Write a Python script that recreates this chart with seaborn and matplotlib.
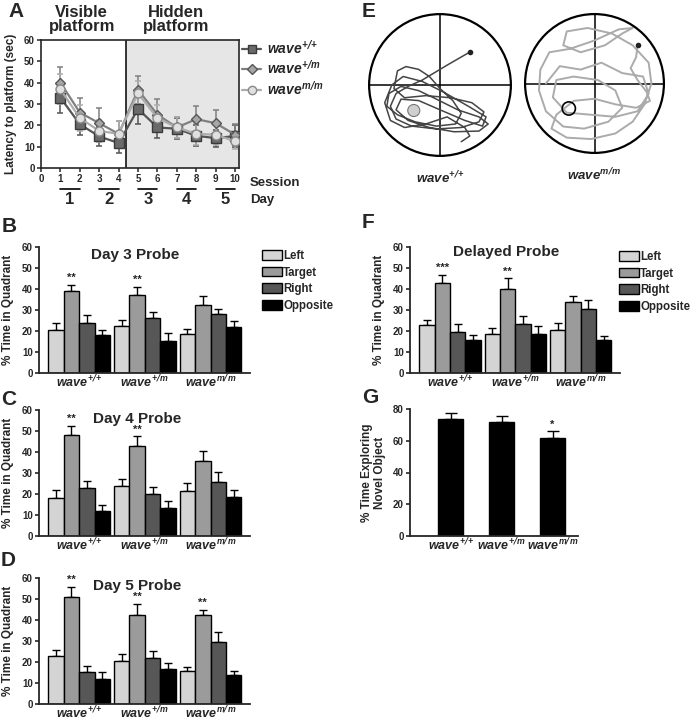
import matplotlib
matplotlib.use("Agg")
import matplotlib.pyplot as plt
from matplotlib.patches import Patch, Circle
from matplotlib.lines import Line2D
import matplotlib.transforms as mtransforms
import numpy as np
import pandas as pd
import seaborn as sns

sns.set_style("ticks")
plt.rcParams["font.family"] = ["Liberation Sans", "DejaVu Sans"]
plt.rcParams["font.weight"] = "bold"
plt.rcParams["axes.labelweight"] = "bold"
plt.rcParams["mathtext.fontset"] = "custom"
plt.rcParams["mathtext.it"] = "Liberation Sans:italic:bold"
plt.rcParams["mathtext.rm"] = "Liberation Sans:italic:bold"
plt.rcParams["mathtext.sf"] = "DejaVu Sans:italic:bold"
plt.rcParams["mathtext.bf"] = "Liberation Sans:bold"

# ---- data ----
genotypes = [r"$wave^{+\mathsf{/}{+}}$", r"$wave^{+\mathsf{/}m}$", r"$wave^{m\mathsf{/}m}$"]
quadrants = ["Left", "Target", "Right", "Opposite"]

sessions = [1, 2, 3, 4, 5, 6, 7, 8, 9, 10]
lat_wt = [33, 20.5, 14.8, 11.7, 27.7, 19, 18.4, 15.1, 14, 15]
lat_wt_err = [7, 5, 4.5, 4.5, 7, 5, 5, 5, 4, 5]
lat_het = [40, 26, 21, 16, 36.6, 25, 19, 22.9, 21, 15.6]
lat_het_err = [7.5, 7, 7, 6, 6.4, 7.5, 5, 6, 6, 5]
lat_mut = [36.9, 23.4, 17.4, 16, 35, 23.4, 19, 16, 15.6, 12.5]
lat_mut_err = [7, 6, 5, 6, 6, 6, 5, 5, 5, 3.5]

# rows: genotype, columns: Left, Target, Right, Opposite
day3_means = [[20.5, 39.2, 23.6, 18.2], [22.6, 37.1, 26.4, 15.4], [18.5, 32.5, 28.0, 22.1]]
day3_errs = [[3.2, 2.8, 3.9, 2.5], [2.7, 4.0, 2.7, 3.6], [2.5, 4.4, 2.7, 2.9]]
day3_stars = ["**", "**", ""]

day4_means = [[18.3, 48.2, 22.9, 11.8], [24.0, 42.8, 20.2, 13.5], [21.3, 35.8, 25.6, 18.5]]
day4_errs = [[3.5, 4.3, 3.1, 3.0], [3.2, 4.8, 3.0, 3.2], [4.0, 4.8, 4.8, 3.3]]
day4_stars = ["**", "**", ""]

day5_means = [[22.9, 51.0, 15.4, 11.9], [20.3, 42.2, 21.9, 16.8], [15.6, 42.2, 29.4, 14.0]]
day5_errs = [[2.8, 4.9, 2.9, 3.2], [3.4, 5.6, 3.3, 2.7], [2.2, 2.6, 4.7, 1.9]]
day5_stars = ["**", "**", "**"]

delayed_means = [[22.9, 42.9, 19.7, 15.6], [18.7, 40.2, 23.2, 18.4], [20.6, 34.0, 30.6, 15.6]]
delayed_errs = [[2.5, 3.8, 3.5, 2.5], [2.9, 4.9, 3.8, 3.8], [3.1, 2.8, 4.0, 2.2]]
delayed_stars = ["***", "**", ""]

novel_means = [73.9, 72.0, 61.9]
novel_errs = [3.4, 3.4, 4.0]
novel_stars = ["", "", "*"]

# swim paths (unit circle coordinates)
path_wt = [
    (0.43, 0.47), (0.10, 0.28), (-0.25, 0.07), (-0.45, -0.02), (-0.62, -0.12), (-0.70, -0.30),
    (-0.62, -0.48), (-0.40, -0.58), (-0.05, -0.62), (0.30, -0.60), (0.55, -0.52), (0.62, -0.38),
    (0.45, -0.25), (0.15, -0.18), (-0.20, -0.15), (-0.50, -0.18), (-0.65, -0.05), (-0.60, 0.20),
    (-0.48, 0.26), (-0.30, 0.22), (-0.15, 0.12), (0.00, -0.05), (0.18, -0.22), (0.30, -0.40),
    (0.22, -0.55), (-0.05, -0.58), (-0.35, -0.52), (-0.60, -0.42), (-0.75, -0.30), (-0.72, -0.12),
    (-0.55, -0.02), (-0.30, -0.08), (-0.05, -0.20), (0.25, -0.35), (0.55, -0.45), (0.68, -0.55),
    (0.55, -0.65), (0.20, -0.66), (-0.15, -0.60), (-0.45, -0.50), (-0.62, -0.35), (-0.55, -0.20),
    (-0.30, -0.22), (0.00, -0.35), (0.35, -0.50), (0.60, -0.58), (0.65, -0.45), (0.40, -0.30),
    (0.05, -0.10), (-0.25, 0.05), (-0.52, 0.12), (-0.68, 0.00), (-0.78, -0.25), (-0.70, -0.50),
    (-0.50, -0.60), (-0.20, -0.55), (0.10, -0.45), (0.35, -0.60), (0.42, -0.72), (0.30, -0.80),
]
path_mut = [
    (0.62, 0.56), (0.60, 0.38), (0.52, 0.22), (0.62, 0.05), (0.75, -0.12), (0.80, -0.25),
    (0.60, -0.35), (0.30, -0.30), (0.00, -0.22), (-0.30, -0.25), (-0.55, -0.45), (-0.62, -0.65),
    (-0.40, -0.78), (-0.05, -0.80), (0.30, -0.72), (0.55, -0.55), (0.72, -0.30), (0.82, 0.00),
    (0.78, 0.30), (0.55, 0.55), (0.25, 0.72), (-0.10, 0.80), (-0.40, 0.75), (-0.45, 0.55),
    (-0.20, 0.45), (0.15, 0.55), (0.40, 0.72), (0.55, 0.80), (0.35, 0.78), (0.00, 0.62),
    (-0.35, 0.50), (-0.65, 0.45), (-0.78, 0.20), (-0.80, -0.10), (-0.70, -0.40), (-0.45, -0.62),
    (-0.15, -0.65), (0.20, -0.55), (0.40, -0.35), (0.30, -0.10), (0.05, 0.05), (-0.30, 0.10),
    (-0.55, 0.05), (-0.60, -0.20), (-0.40, -0.42), (-0.05, -0.45), (0.30, -0.48), (0.62, -0.40),
    (0.78, -0.15), (0.70, 0.10), (0.40, 0.15), (0.10, 0.30), (-0.20, 0.20), (-0.50, 0.25),
    (-0.70, 0.00),
]
platform_xy = (-0.37, -0.36)

bar_colors = ["#d4d4d4", "#9b9b9b", "#575757", "#000000"]

W, H = 692, 720
fig = plt.figure(figsize=(W / 100, H / 100), dpi=100)


def add_ax(left, top, right, bottom):
    return fig.add_axes([left / W, 1 - bottom / H, (right - left) / W, (bottom - top) / H])


def style_ax(ax):
    for s in ["left", "bottom"]:
        ax.spines[s].set_linewidth(1.3)
    ax.tick_params(axis="y", direction="out", length=3, width=1.2, labelsize=7, pad=1.5)
    ax.tick_params(axis="x", length=0, labelsize=9, pad=0.5)


def bar_panel(ax, means, errs, stars, title, tx, ty):
    df = pd.DataFrame({
        "genotype": np.repeat(genotypes, 4),
        "quadrant": quadrants * 3,
        "value": np.array(means).ravel(),
    })
    sns.barplot(data=df, x="genotype", y="value", hue="quadrant", hue_order=quadrants,
                palette=bar_colors, edgecolor="black", linewidth=1, width=0.94, gap=0,
                errorbar=None, legend=False, ax=ax, zorder=2)
    bar_conts = list(ax.containers)
    for qi, cont in enumerate(bar_conts):
        for gi, bar in enumerate(cont.patches):
            x = bar.get_x() + bar.get_width() / 2
            h = bar.get_height()
            e = errs[gi][qi]
            ax.errorbar(x, h, yerr=[[0], [e]], fmt="none", ecolor="black",
                        elinewidth=1, capsize=3, capthick=1, zorder=1)
            if qi == 1 and stars[gi]:
                ax.text(x, h + e + 0.8, stars[gi], ha="center", va="bottom", fontsize=8)
    ax.set_ylim(0, 60)
    ax.set_yticks(range(0, 61, 10))
    ax.set_xlim(-0.61, 2.6)
    ax.set_xlabel("")
    ax.set_ylabel("% Time in Quadrant", fontsize=8.5, labelpad=6)
    ax.text(tx, ty, title, transform=ax.transAxes, ha="center", va="center", fontsize=11)
    sns.despine(ax=ax)
    style_ax(ax)


def quad_legend(x, y):
    handles = [Patch(facecolor=c, edgecolor="black", linewidth=1) for c in bar_colors]
    fig.legend(handles, quadrants, loc="upper left", bbox_to_anchor=(x / W, 1 - y / H),
               frameon=False, fontsize=8.3, handlelength=1.7, handleheight=0.9,
               labelspacing=0.4, handletextpad=0.15, borderpad=0, borderaxespad=0)


# ---- panel A ----
axA = add_ax(41, 40, 239, 168)
axA.axvspan(4.4, 10.2, color="#e6e6e6", zorder=0, lw=0)
axA.axvline(4.4, color="black", lw=1.1, zorder=1)
series = [
    (lat_wt, lat_wt_err, "s", "#555555", "#6a6a6a", "#3a3a3a"),
    (lat_het, lat_het_err, "D", "#808080", "#a6a6a6", "#555555"),
    (lat_mut, lat_mut_err, "o", "#acacac", "#e0e0e0", "#888888"),
]
for vals, err, mk, lc, fc, ec in series:
    axA.errorbar(sessions, vals, yerr=err, fmt="none", ecolor=lc, elinewidth=1.1,
                 capsize=2.5, capthick=1.1, zorder=2)
    sns.lineplot(x=sessions, y=vals, color=lc, lw=1.6, marker=mk,
                 markersize=6.5 if mk != "D" else 5.5,
                 markerfacecolor=fc, markeredgecolor=ec, markeredgewidth=1, ax=axA, zorder=3)
axA.set_xlim(0, 10.2)
axA.set_ylim(0, 60)
axA.set_xticks(range(0, 11))
axA.set_yticks(range(0, 61, 10))
axA.set_ylabel("Latency to platform (sec)", fontsize=8.5, labelpad=5)
for s in axA.spines.values():
    s.set_linewidth(1.2)
axA.tick_params(axis="both", direction="out", length=3, width=1.1, labelsize=7, pad=1.5)
trA = mtransforms.blended_transform_factory(axA.transData, axA.transAxes)
for d in range(5):
    axA.plot([2 * d + 1, 2 * d + 2], [-0.165, -0.165], color="black", lw=1.2,
             transform=trA, clip_on=False)
    axA.text(2 * d + 1.5, -0.245, str(d + 1), transform=trA, ha="center", va="center",
             fontsize=12)
axA.text(1.055, -0.12, "Session", transform=axA.transAxes, ha="left", va="center", fontsize=9.5)
axA.text(1.055, -0.25, "Day", transform=axA.transAxes, ha="left", va="center", fontsize=9.5)
axA.text(2.1, 1.16, "Visible\nplatform", transform=trA, ha="center", va="center",
         fontsize=12, linespacing=0.95)
axA.text(6.95, 1.16, "Hidden\nplatform", transform=trA, ha="center", va="center",
         fontsize=12, linespacing=0.95)
legA = [Line2D([0], [0], color=lc, lw=1.6, marker=mk, markersize=6 if mk != "D" else 5.5,
               markerfacecolor=fc, markeredgecolor=ec) for _, _, mk, lc, fc, ec in series]
fig.legend(legA, genotypes, loc="upper left", bbox_to_anchor=(242 / W, 1 - 38 / H),
           frameon=False, fontsize=10, handlelength=1.4, labelspacing=0.15,
           handletextpad=0.4, borderpad=0, borderaxespad=0)

# ---- panels B, C, D ----
axB = add_ax(39, 247, 250, 373)
bar_panel(axB, day3_means, day3_errs, day3_stars, "Day 3 Probe", 0.455, 0.94)
quad_legend(262, 250)
axC = add_ax(39, 410, 250, 536)
bar_panel(axC, day4_means, day4_errs, day4_stars, "Day 4 Probe", 0.465, 0.93)
axD = add_ax(39, 578, 250, 704)
bar_panel(axD, day5_means, day5_errs, day5_stars, "Day 5 Probe", 0.465, 0.94)

# ---- panel F ----
axF = add_ax(410, 247, 620, 373)
bar_panel(axF, delayed_means, delayed_errs, delayed_stars, "Delayed Probe", 0.46, 0.96)
quad_legend(619, 251)

# ---- panel G ----
axG = add_ax(410, 409, 578, 536)
sns.barplot(x=genotypes, y=novel_means, color="black", width=0.49, edgecolor="black",
            errorbar=None, ax=axG, zorder=2)
g_bars = list(axG.containers[0].patches)
for gi, bar in enumerate(g_bars):
    x = bar.get_x() + bar.get_width() / 2
    h = bar.get_height()
    axG.errorbar(x, h, yerr=[[0], [novel_errs[gi]]], fmt="none", ecolor="black",
                 elinewidth=1, capsize=4, capthick=1, zorder=1)
    if novel_stars[gi]:
        axG.text(x, h + novel_errs[gi] + 1, novel_stars[gi], ha="center", va="bottom", fontsize=8)
axG.set_ylim(0, 80)
axG.set_yticks(range(0, 81, 20))
axG.set_xlim(-0.8, 2.5)
axG.set_ylabel("% Time Exploring\nNovel Object", fontsize=8.5, labelpad=5, linespacing=1.1)
sns.despine(ax=axG)
style_ax(axG)

# ---- panel E ----
for box, path, pc, filled, lab in [
    ((367, 12, 513, 158), path_wt, "#454545", True, genotypes[0]),
    ((523, 12, 666, 155), path_mut, "#ababab", False, genotypes[2]),
]:
    axE = add_ax(*box)
    axE.set_xlim(-1.03, 1.03)
    axE.set_ylim(-1.03, 1.03)
    axE.set_aspect("equal")
    axE.axis("off")
    axE.plot([-1, 1], [0, 0], color="black", lw=1.1)
    axE.plot([0, 0], [-1, 1], color="black", lw=1.1)
    px = [p[0] for p in path]
    py = [p[1] for p in path]
    if filled:
        axE.add_patch(Circle(platform_xy, 0.085, facecolor="#cfcfcf", edgecolor="#777777",
                             lw=0.8, zorder=2))
        axE.plot(px, py, color=pc, lw=1.1, zorder=3, solid_joinstyle="round")
    else:
        axE.plot(px, py, color=pc, lw=1.4, zorder=2, solid_joinstyle="round")
        axE.add_patch(Circle(platform_xy, 0.095, facecolor="none", edgecolor="black",
                             lw=1.2, zorder=3))
    axE.plot([px[0]], [py[0]], marker="o", markersize=3, color="#222222", zorder=4)
    axE.add_patch(Circle((0, 0), 1, facecolor="none", edgecolor="black", lw=1.6, zorder=5))
    axE.text(0.5, -0.08, lab, transform=axE.transAxes, ha="center", va="top", fontsize=9.5)

# ---- panel letters ----
for letter, x, y in [("A", 8, 2), ("B", 2, 217), ("C", 1, 390), ("D", 1, 551),
                     ("E", 362, 2), ("F", 362, 213), ("G", 362, 388)]:
    fig.text(x / W, 1 - y / H, letter, ha="left", va="top", fontsize=15)

fig.savefig("out.png", dpi=100)
